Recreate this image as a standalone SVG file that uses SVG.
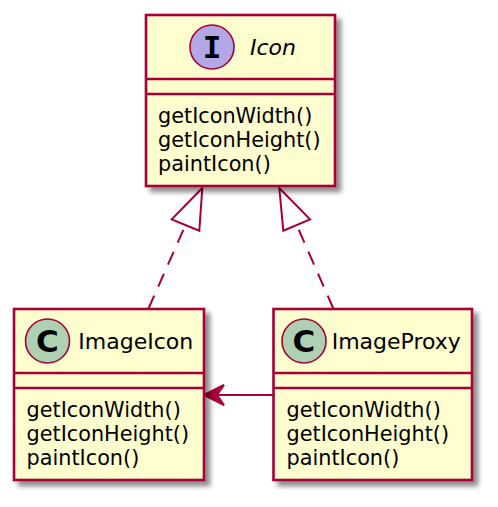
<svg xmlns="http://www.w3.org/2000/svg" width="498" height="507" viewBox="0 0 498 507">
<style>
.box{fill:#FEFECE;stroke:#A80036;stroke-width:2.6}
.div{stroke:#A80036;stroke-width:2.6}
.name{font-family:"DejaVu Sans",sans-serif;font-size:22px;fill:#000}
.mem{font-family:"DejaVu Sans",sans-serif;font-size:20.8px;fill:#000}
.circ{stroke:#A80036;stroke-width:1.6}
.glyph{font-family:"DejaVu Sans Mono",monospace;font-weight:bold;font-size:31px;fill:#000;text-anchor:middle}
.conn{stroke:#A80036;stroke-width:2;fill:none}
</style>
<defs>
<filter id="sh" x="-10%" y="-10%" width="130%" height="130%">
<feGaussianBlur in="SourceAlpha" stdDeviation="2.5"/>
<feOffset dx="5" dy="5" result="b"/>
<feComponentTransfer><feFuncA type="linear" slope="0.45"/></feComponentTransfer>
<feMerge><feMergeNode/><feMergeNode in="SourceGraphic"/></feMerge>
</filter>
</defs>

<g id="connectors">
<polyline class="conn" points="148.5,308.5 185.5,225" stroke-dasharray="14,10"/>
<polygon class="conn" fill="none" points="202.3,188 171.7,219.3 199.3,230.7"/>
<polyline class="conn" points="333.3,308.5 296.7,225" stroke-dasharray="14,10"/>
<polygon class="conn" fill="none" points="279.3,188 283.3,230.7 310,219.3"/>
<line class="conn" x1="273.5" y1="395" x2="215" y2="395"/>
<polygon points="204,395 224,385 217,395 224,405" fill="#A80036" stroke="#A80036" stroke-width="2"/>
</g>

<g id="Icon">
<rect class="box" x="146" y="15" width="189" height="171" filter="url(#sh)"/>
<line class="div" x1="146" y1="79" x2="335" y2="79"/>
<line class="div" x1="146" y1="94" x2="335" y2="94"/>
<circle class="circ" cx="212" cy="47" r="22" fill="#B4A7E5"/>
<text class="glyph" x="212" y="58">I</text>
<text class="name" x="250" y="55" font-style="italic">Icon</text>
<text class="mem" x="158" y="123">getIconWidth()</text>
<text class="mem" x="158" y="147">getIconHeight()</text>
<text class="mem" x="158" y="171">paintIcon()</text>
</g>

<g id="ImageIcon">
<rect class="box" x="14" y="309" width="190" height="171" filter="url(#sh)"/>
<line class="div" x1="14" y1="373" x2="204" y2="373"/>
<line class="div" x1="14" y1="388" x2="204" y2="388"/>
<circle class="circ" cx="47.5" cy="341" r="22" fill="#ADD1B2"/>
<text class="glyph" x="47.5" y="352" style="font-family:'DejaVu Sans',sans-serif">C</text>
<text class="name" x="78.3" y="349">ImageIcon</text>
<text class="mem" x="26.5" y="417">getIconWidth()</text>
<text class="mem" x="26.5" y="441">getIconHeight()</text>
<text class="mem" x="26.5" y="465">paintIcon()</text>
</g>

<g id="ImageProxy">
<rect class="box" x="273.5" y="309" width="198.5" height="171" filter="url(#sh)"/>
<line class="div" x1="273.5" y1="373" x2="472" y2="373"/>
<line class="div" x1="273.5" y1="388" x2="472" y2="388"/>
<circle class="circ" cx="304" cy="341" r="22" fill="#ADD1B2"/>
<text class="glyph" x="304" y="352" style="font-family:'DejaVu Sans',sans-serif">C</text>
<text class="name" x="331.7" y="349">ImageProxy</text>
<text class="mem" x="286.5" y="417">getIconWidth()</text>
<text class="mem" x="286.5" y="441">getIconHeight()</text>
<text class="mem" x="286.5" y="465">paintIcon()</text>
</g>
</svg>
